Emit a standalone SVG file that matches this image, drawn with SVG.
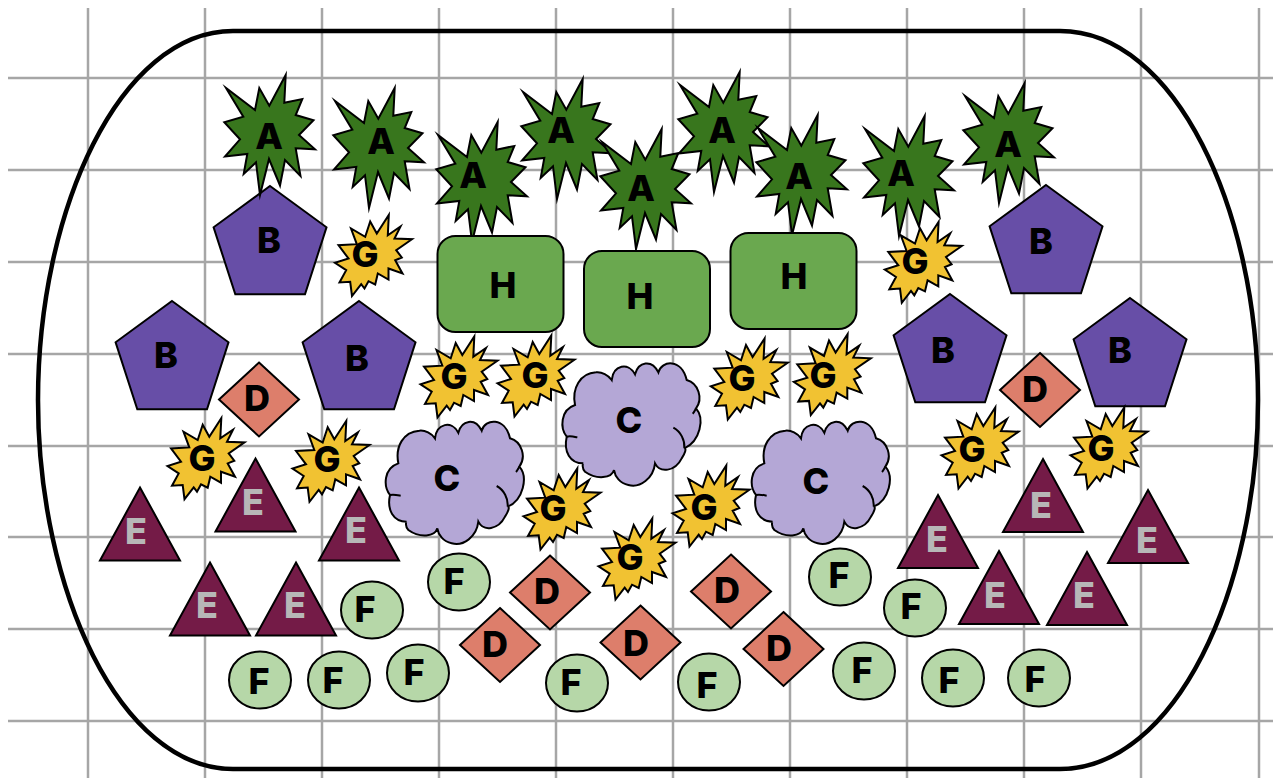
<svg xmlns="http://www.w3.org/2000/svg" width="1273" height="778" viewBox="0 0 1273 778">
<style>
.g{stroke:#a6a6a6;stroke-width:2.5;fill:none}
.s{stroke:#000;stroke-width:2;stroke-miterlimit:12}
.t{font-family:Inter,"Liberation Sans",sans-serif;font-weight:800;font-size:36px;text-anchor:middle;fill:#000}
.e{fill:#b7b7b7}
.A{fill:#38761d}.B{fill:#674ea7}.C{fill:#b4a7d6}.D{fill:#dd7e6b}.E{fill:#741b47}.F{fill:#b6d7a8}.G{fill:#f1c232}.H{fill:#6aa84f}
</style>
<defs>
<polygon id="star" class="A s" points="16.7,-61 15.3,-33.3 33.3,-37 26.7,-21 44.5,-15.7 30,-1 46,13.3 26.7,12.3 31.5,40 16,24 11,49.5 0,23 -9,59 -13,26.3 -25.3,38 -21.7,18 -44,20.5 -29,3.3 -44.7,-13.7 -25.7,-19.3 -43,-48 -14,-26 -9.7,-48 0.3,-30.3"/>
<polygon id="burst" class="G s" points="24.3,-39.500 23.3,-19.3 36,-28 30,-16 47.500,-15.3 31.7,-4.3 37.3,3 30.7,5.7 38,19 24,14 24,25 13.3,19 10.7,30 4,26.7 0,34 -3.3,29.7 -12.500,41.500 -14.3,27.3 -25,28 -18.3,15.7 -29.500,8.3 -16,4 -26,-9.3 -7.7,-10.3 -13.500,-26 0.7,-17.7 5.7,-33 12.3,-21"/>
<polygon id="pent" class="B s" points="0,0 56.5,41.3 35,108.3 -34.7,108.3 -56.4,41.3"/>
<polygon id="dia" class="D s" points="0,-37 40,0 0,37 -40,0"/>
<polygon id="tri" class="E s" points="0,1 40,74 -40,74"/>
<ellipse id="ell" class="F s" rx="31" ry="28.5"/>
<rect id="rct" class="H s" width="126" height="96" rx="18"/>
<g id="cloud" transform="scale(.33333)">
<path class="C" stroke="#000" stroke-width="6" d="M55,370C45,320 70,275 118,272C135,270 155,280 165,295C170,250 215,240 235,278C245,240 285,232 305,272C315,235 375,230 390,295C425,305 440,350 418,380C445,410 430,480 383,500C390,500 385,515 375,530C355,570 310,575 295,545C290,590 250,620 215,610C190,605 175,585 172,565C165,590 120,595 85,570C75,560 78,545 80,545C40,545 20,510 30,465C10,440 10,385 55,370Z"/>
<path fill="none" stroke="#000" stroke-width="6" d="M350,438C372,450 385,475 383,500M30,465C40,462 52,465 62,467M418,380C415,385 412,392 408,396"/>
</g>
</defs>
<g id="grid">
<path class="g" d="M88,8V778M205,8V778M322,8V778M439,8V778M556,8V778M673,8V778M790,8V778M907,8V778M1024,8V778M1141,8V778M1259,8V778M8,78H1273M8,170H1273M8,262H1273M8,354H1273M8,446H1273M8,537H1273M8,629H1273M8,721H1273"/>
</g>
<path id="bed" fill="none" stroke="#000" stroke-width="4.500" d="M233,31H1060C1175,31 1258,210 1258,400C1258,590 1175,769 1060,769H233C120,769 38,590 38,400C38,210 120,31 233,31Z"/>
<g id="b1"><use href="#pent" x="270" y="186"/><text class="t" x="269" y="253">B</text></g>
<g id="b2"><use href="#pent" x="172" y="301"/><text class="t" x="166" y="368">B</text></g>
<g id="b3"><use href="#pent" x="359" y="301"/><text class="t" x="357" y="371">B</text></g>
<g id="b4"><use href="#pent" x="1046" y="185"/><text class="t" x="1041" y="254">B</text></g>
<g id="b5"><use href="#pent" x="950" y="294"/><text class="t" x="943" y="363">B</text></g>
<g id="b6"><use href="#pent" x="1130" y="298"/><text class="t" x="1120" y="363">B</text></g>
<g id="a1"><use href="#star" x="269" y="136"/><text class="t" x="269" y="149">A</text></g>
<g id="a2"><use href="#star" x="378" y="149"/><text class="t" x="381" y="154">A</text></g>
<g id="a3"><use href="#star" x="481" y="183"/><text class="t" x="473" y="188">A</text></g>
<g id="a4"><use href="#star" x="566" y="140"/><text class="t" x="561" y="143">A</text></g>
<g id="a6"><use href="#star" x="723" y="133"/><text class="t" x="722" y="143">A</text></g>
<g id="a7"><use href="#star" x="801" y="176"/><text class="t" x="799" y="189">A</text></g>
<g id="a5"><use href="#star" x="645" y="190"/><text class="t" x="641" y="201">A</text></g>
<g id="a8"><use href="#star" x="908" y="177"/><text class="t" x="901" y="186">A</text></g>
<g id="a9"><use href="#star" x="1008" y="144"/><text class="t" x="1008" y="157">A</text></g>
<g id="h1"><use href="#rct" x="437.500" y="236"/><text class="t" x="503" y="298">H</text></g>
<g id="h2"><use href="#rct" x="584" y="251"/><text class="t" x="640" y="309">H</text></g>
<g id="h3"><use href="#rct" x="730.500" y="233"/><text class="t" x="794" y="289">H</text></g>
<g id="c1"><use href="#cloud" transform="translate(380,340)"/><text class="t" x="447" y="491">C</text></g>
<g id="c2"><use href="#cloud" transform="translate(556.700,281.700)"/><text class="t" x="629" y="433">C</text></g>
<g id="c3"><use href="#cloud" transform="translate(746,340)"/><text class="t" x="816" y="494">C</text></g>
<g id="d1"><use href="#dia" x="259" y="399.500"/><text class="t" x="257" y="411">D</text></g>
<g id="d2"><use href="#dia" x="1040" y="390"/><text class="t" x="1035" y="402">D</text></g>
<g id="d3"><use href="#dia" x="550" y="592.500"/><text class="t" x="547" y="604">D</text></g>
<g id="d4"><use href="#dia" x="500" y="645"/><text class="t" x="495" y="657">D</text></g>
<g id="d5"><use href="#dia" x="640.500" y="642.500"/><text class="t" x="636" y="656">D</text></g>
<g id="d6"><use href="#dia" x="731" y="591.500"/><text class="t" x="727" y="603">D</text></g>
<g id="d7"><use href="#dia" x="783.500" y="649"/><text class="t" x="779" y="661">D</text></g>
<g id="e1"><use href="#tri" x="140" y="486.500"/><text class="t e" x="136" y="544">E</text></g>
<g id="e2"><use href="#tri" x="255.500" y="457.500"/><text class="t e" x="253" y="515">E</text></g>
<g id="e3"><use href="#tri" x="359" y="486.500"/><text class="t e" x="356" y="543">E</text></g>
<g id="e4"><use href="#tri" x="210" y="561.500"/><text class="t e" x="207" y="618">E</text></g>
<g id="e5"><use href="#tri" x="296" y="561.500"/><text class="t e" x="295" y="618">E</text></g>
<g id="e6"><use href="#tri" x="938" y="494"/><text class="t e" x="937" y="552">E</text></g>
<g id="e7"><use href="#tri" x="1043" y="458"/><text class="t e" x="1041" y="518">E</text></g>
<g id="e8"><use href="#tri" x="1148" y="489"/><text class="t e" x="1147" y="553">E</text></g>
<g id="e9"><use href="#tri" x="999" y="550"/><text class="t e" x="995" y="608">E</text></g>
<g id="e10"><use href="#tri" x="1087" y="551"/><text class="t e" x="1084" y="608">E</text></g>
<g id="f1"><use href="#ell" x="372" y="610"/><text class="t" x="365" y="622">F</text></g>
<g id="f2"><use href="#ell" x="459" y="582"/><text class="t" x="454" y="594">F</text></g>
<g id="f3"><use href="#ell" x="260" y="680"/><text class="t" x="259" y="694">F</text></g>
<g id="f4"><use href="#ell" x="339" y="680"/><text class="t" x="333" y="693">F</text></g>
<g id="f5"><use href="#ell" x="418" y="673"/><text class="t" x="414" y="685">F</text></g>
<g id="f6"><use href="#ell" x="577" y="683"/><text class="t" x="571" y="695">F</text></g>
<g id="f7"><use href="#ell" x="709" y="682"/><text class="t" x="707" y="698">F</text></g>
<g id="f8"><use href="#ell" x="840" y="577"/><text class="t" x="839" y="588">F</text></g>
<g id="f9"><use href="#ell" x="915" y="608"/><text class="t" x="911" y="619">F</text></g>
<g id="f10"><use href="#ell" x="864" y="671"/><text class="t" x="862" y="683">F</text></g>
<g id="f11"><use href="#ell" x="953" y="678"/><text class="t" x="949" y="693">F</text></g>
<g id="f12"><use href="#ell" x="1039" y="678"/><text class="t" x="1035" y="692">F</text></g>
<g id="g1"><use href="#burst" x="364.500" y="254.500"/><text class="t" x="365" y="267">G</text></g>
<g id="g2"><use href="#burst" x="450" y="376"/><text class="t" x="454" y="389">G</text></g>
<g id="g3"><use href="#burst" x="527" y="375"/><text class="t" x="535" y="388">G</text></g>
<g id="g4"><use href="#burst" x="553" y="508"/><text class="t" x="553" y="521">G</text></g>
<g id="g5"><use href="#burst" x="628" y="558"/><text class="t" x="630" y="570">G</text></g>
<g id="g6"><use href="#burst" x="702" y="505"/><text class="t" x="704" y="520">G</text></g>
<g id="g7"><use href="#burst" x="740.300" y="378"/><text class="t" x="742" y="391">G</text></g>
<g id="g8"><use href="#burst" x="823.300" y="373.600"/><text class="t" x="823" y="388">G</text></g>
<g id="g9"><use href="#burst" x="914.300" y="261.300"/><text class="t" x="915" y="274">G</text></g>
<g id="g10"><use href="#burst" x="971" y="447"/><text class="t" x="972" y="462">G</text></g>
<g id="g11"><use href="#burst" x="1100" y="447"/><text class="t" x="1101" y="461">G</text></g>
<g id="g12"><use href="#burst" x="197" y="457.700"/><text class="t" x="202" y="471">G</text></g>
<g id="g13"><use href="#burst" x="322" y="460.300"/><text class="t" x="327" y="472">G</text></g>
</svg>
